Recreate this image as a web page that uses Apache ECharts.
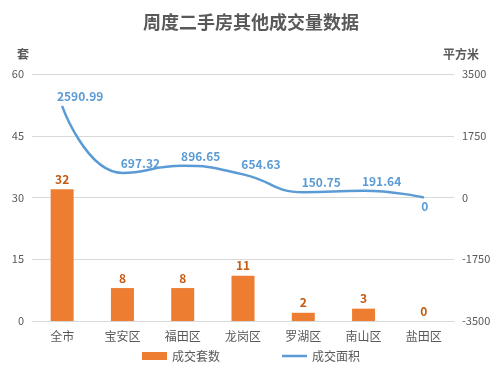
<!DOCTYPE html>
<html><head><meta charset="utf-8">
<script src="https://cdn.jsdelivr.net/npm/echarts@6/dist/echarts.min.js"></script>
<style>html,body{margin:0;padding:0;background:#fff}#c{width:502px;height:371px}</style>
</head><body><div id="c"></div>
<script>
const categories = ['全市','宝安区','福田区','龙岗区','罗湖区','南山区','盐田区'];
const countValues = [32, 8, 8, 11, 2, 3, 0];
const areaValues = [2590.99, 697.32, 896.65, 654.63, 150.75, 191.64, 0];
const leftTicks = {min: 0, max: 60, interval: 15};
const rightTicks = {min: -3500, max: 3500, interval: 1750};

const chart = echarts.init(document.getElementById('c'));
const font = '"Noto Sans CJK SC", "Microsoft YaHei", sans-serif';
const lineData = areaValues.map(v => v === 0
  ? {value: v, label: {position: 'bottom', distance: 2, offset: [1, 0]}}
  : v);
chart.setOption({
  animation: false,
  textStyle: {fontFamily: font},
  title: {
    text: '周度二手房其他成交量数据', left: 'center', top: 8,
    textStyle: {fontSize: 18, fontWeight: 'bold', color: '#595959', fontFamily: font}
  },
  legend: {
    bottom: 4, left: 'center', itemWidth: 25, itemHeight: 8, itemGap: 62,
    textStyle: {color: '#595959', fontSize: 12},
    data: [{name: '成交套数', icon: 'rect'}, {name: '成交面积', icon: 'path://M0,0 L10,0 L10,1 L0,1 Z'}]
  },
  grid: {left: 32, right: 48, top: 74, bottom: 50},
  xAxis: {
    type: 'category', data: categories,
    axisLine: {lineStyle: {color: '#d9d9d9'}},
    axisTick: {show: false},
    axisLabel: {color: '#595959', fontSize: 12, margin: 9}
  },
  yAxis: [
    {type: 'value', min: leftTicks.min, max: leftTicks.max, interval: leftTicks.interval,
     name: '套', nameGap: 14, nameTextStyle: {color: '#595959', fontSize: 12, fontWeight: 'bold', padding: [0, 18, 0, 0]},
     axisLabel: {color: '#595959', fontSize: 11, formatter: v => String(v)},
     splitLine: {lineStyle: {color: '#d9d9d9'}}},
    {type: 'value', min: rightTicks.min, max: rightTicks.max, interval: rightTicks.interval,
     name: '平方米', nameGap: 14, nameTextStyle: {color: '#595959', fontSize: 12, fontWeight: 'bold', padding: [0, 0, 0, 14]},
     axisLabel: {color: '#595959', fontSize: 11, formatter: v => String(v)},
     splitLine: {show: false}}
  ],
  series: [
    {name: '成交套数', type: 'bar', yAxisIndex: 0, data: countValues, barWidth: 23,
     itemStyle: {color: '#ED7D31'},
     label: {show: true, position: 'top', distance: 4, color: '#C55A11', fontWeight: 'bold', fontSize: 12}},
    {name: '成交面积', type: 'line', yAxisIndex: 1, data: lineData, smooth: true,
     symbol: 'circle', symbolSize: 1, showSymbol: true,
     lineStyle: {color: '#5B9BD5', width: 2.5}, itemStyle: {color: '#5B9BD5'},
     label: {show: true, position: 'top', distance: 3, offset: [18, 0], color: '#5B9BD5', fontWeight: 'bold', fontSize: 12}}
  ]
});
</script></body></html>
